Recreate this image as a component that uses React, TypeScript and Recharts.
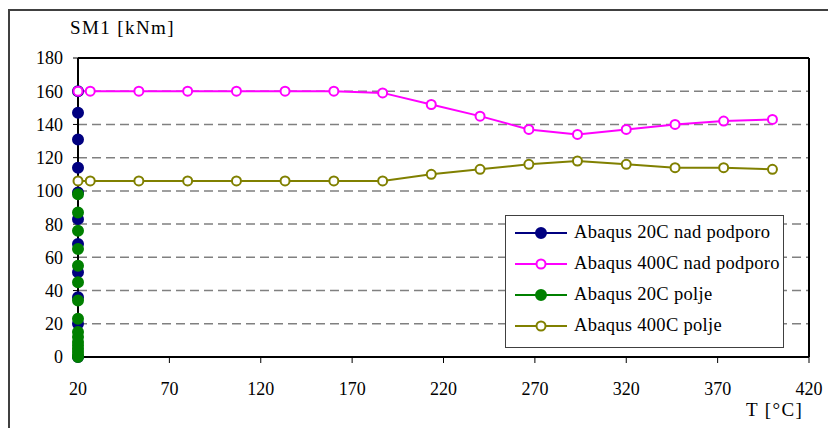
import { LineChart, Line, XAxis, YAxis, CartesianGrid, ReferenceLine } from 'recharts';

const FONT = '"Liberation Serif", "Times New Roman", serif';

// temperature steps (°C) used by the 400C analyses
const temps400 = [20, 26.7, 53.3, 80, 106.7, 133.3, 160, 186.7, 213.3, 240, 266.7, 293.3, 320, 346.7, 373.3, 400];

// SM1 [kNm]
const nad20 = [160, 147, 131, 114, 99, 83, 68, 51, 36, 20, 0];
const nad400 = [160, 160, 160, 160, 160, 160, 160, 159, 152, 145, 137, 134, 137, 140, 142, 143];
const polje20 = [98, 87, 76, 65, 55, 45, 34, 23, 15, 12, 9, 7, 5, 3, 1, 0];
const polje400 = [106, 106, 106, 106, 106, 106, 106, 106, 110, 113, 116, 118, 116, 114, 114, 113];

const xTicks = [20, 70, 120, 170, 220, 270, 320, 370, 420];
const yTicks = [0, 20, 40, 60, 80, 100, 120, 140, 160, 180];

const at20 = (vals: number[]) => vals.map(y => ({ x: 20, y }));
const alongT = (vals: number[]) => vals.map((y, i) => ({ x: temps400[i], y }));

const series = [
    { name: 'Abaqus 20C nad podporo', color: '#000080', filled: true, data: at20(nad20) },
    { name: 'Abaqus 400C nad podporo', color: '#ff00ff', filled: false, data: alongT(nad400) },
    { name: 'Abaqus 20C polje', color: '#008000', filled: true, data: at20(polje20) },
    { name: 'Abaqus 400C polje', color: '#808000', filled: false, data: alongT(polje400) },
];

function LegendBox() {
    return (
        <div style={{
            position: 'absolute', left: 505, top: 215,
            width: 279, height: 133, border: '1px solid #404040', background: '#fff',
            boxSizing: 'border-box', paddingTop: 1, fontFamily: FONT, fontSize: 18.5, color: '#000',
        }}>
            {series.map(s => (
                <div key={s.name} style={{ display: 'flex', alignItems: 'center', height: 31 }}>
                    <svg width={68} height={14} style={{ flex: 'none' }}>
                        <line x1={9} x2={61} y1={7} y2={7} stroke={s.color} strokeWidth={2} />
                        <circle cx={35} cy={7} r={s.filled ? 5 : 4.5} fill={s.filled ? s.color : '#fff'}
                            stroke={s.color} strokeWidth={2} />
                    </svg>
                    <span style={{ whiteSpace: 'nowrap', letterSpacing: 0.3 }}>{s.name}</span>
                </div>
            ))}
        </div>
    );
}

export default function App() {
    return (
        <div style={{ position: 'absolute', left: 0, top: 0, width: 828, height: 428, background: '#fff', overflow: 'hidden' }}>
            {/* outer frame, runs off the right and bottom edges */}
            <div style={{ position: 'absolute', left: 8, top: 9, width: 900, height: 500, border: '2px solid #404040' }} />
            <LineChart width={828} height={428} margin={{ top: 58, right: 19, left: 0, bottom: 0 }}
                style={{ position: 'absolute', left: 0, top: 0 }}>
                <CartesianGrid vertical={false} stroke="#808080" strokeDasharray="9 5" strokeWidth={1.5} />
                <XAxis
                    dataKey="x"
                    type="number"
                    domain={[20, 420]}
                    ticks={xTicks}
                    interval={0}
                    allowDuplicatedCategory={false}
                    height={71}
                    tickSize={6}
                    tickMargin={19}
                    axisLine={{ stroke: '#000', strokeWidth: 2 }}
                    tickLine={{ stroke: '#000' }}
                    tick={{ fill: '#000', fontSize: 18, fontFamily: FONT }}
                />
                <YAxis
                    dataKey="y"
                    type="number"
                    domain={[0, 180]}
                    ticks={yTicks}
                    interval={0}
                    width={78}
                    tickSize={5}
                    tickMargin={10}
                    axisLine={{ stroke: '#000', strokeWidth: 2 }}
                    tickLine={{ stroke: '#000' }}
                    tick={{ fill: '#000', fontSize: 18, fontFamily: FONT }}
                />
                <ReferenceLine y={180} stroke="#000" strokeWidth={2} />
                <ReferenceLine x={420} stroke="#000" strokeWidth={2} />
                {series.map(s => (
                    <Line
                        key={s.name}
                        data={s.data}
                        dataKey="y"
                        name={s.name}
                        stroke={s.color}
                        strokeWidth={2}
                        dot={{ r: s.filled ? 5 : 4.5, fill: s.filled ? s.color : '#fff', stroke: s.color, strokeWidth: 2 }}
                        activeDot={false}
                        isAnimationActive={false}
                    />
                ))}
            </LineChart>
            <div style={{ position: 'absolute', left: 70, top: 17, fontFamily: FONT, fontSize: 19, letterSpacing: 1.4, color: '#000' }}>
                SM1 [kNm]
            </div>
            <div style={{ position: 'absolute', left: 746, top: 399, fontFamily: FONT, fontSize: 19, letterSpacing: 1.4, color: '#000' }}>
                T [°C]
            </div>
            <LegendBox />
        </div>
    );
}
